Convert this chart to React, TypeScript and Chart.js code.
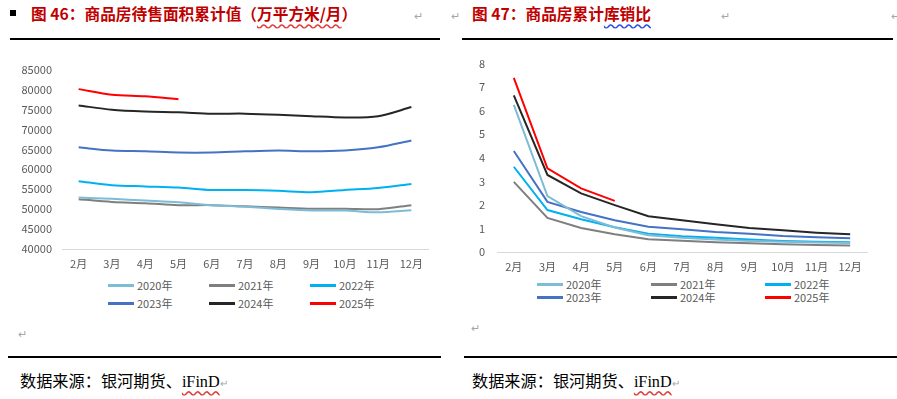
import React, { useEffect, useRef } from "react";
import { Chart, registerables } from "chart.js";

Chart.register(...registerables);

const months = ["2月", "3月", "4月", "5月", "6月", "7月", "8月", "9月", "10月", "11月", "12月"];
const years = ["2020年", "2021年", "2022年", "2023年", "2024年", "2025年"];
const colors = ["#7DBCD6", "#7F7F7F", "#00B0F0", "#4472C4", "#262626", "#FF0000"];

// 商品房待售面积累计值（万平方米）
const stock2020 = [52900, 52600, 52150, 51700, 51000, 50600, 50050, 49650, 49650, 49200, 49700];
const stock2021 = [52500, 51800, 51500, 51000, 51000, 50700, 50400, 50100, 50100, 50000, 51000];
const stock2022 = [57000, 56000, 55700, 55400, 54800, 54800, 54600, 54250, 54800, 55300, 56300];
const stock2023 = [65500, 64700, 64500, 64200, 64200, 64500, 64700, 64500, 64700, 65500, 67200];
const stock2024 = [76000, 74950, 74500, 74300, 73950, 73950, 73700, 73300, 73000, 73300, 75600];
const stock2025 = [80100, 78700, 78300, 77550];

// 商品房累计库销比
const ratio2020 = [6.25, 2.37, 1.52, 1.04, 0.71, 0.6, 0.53, 0.47, 0.43, 0.4, 0.38];
const ratio2021 = [2.98, 1.45, 1.02, 0.75, 0.54, 0.48, 0.41, 0.37, 0.33, 0.3, 0.28];
const ratio2022 = [3.62, 1.78, 1.39, 1.05, 0.78, 0.67, 0.6, 0.53, 0.47, 0.44, 0.41];
const ratio2023 = [4.29, 2.13, 1.7, 1.35, 1.07, 0.97, 0.85, 0.77, 0.68, 0.63, 0.58];
const ratio2024 = [6.65, 3.27, 2.49, 1.99, 1.52, 1.35, 1.18, 1.02, 0.92, 0.82, 0.75];
const ratio2025 = [7.39, 3.55, 2.7, 2.17];

const FONT = '"Noto Sans CJK SC", "Noto Sans", sans-serif';
const TICK = "#595959";

type ChartProps = {
  series: number[][];
  yMin: number;
  yMax: number;
  step: number;
  left: number;
  top: number;
  w: number;
  h: number;
  axisW: number;
  yPad: number;
  padRight: number;
  xAxisH: number;
  tension: number;
};

function LineChart(p: ChartProps) {
  const ref = useRef<HTMLCanvasElement>(null);
  useEffect(() => {
    const chart = new Chart(ref.current as HTMLCanvasElement, {
      type: "line",
      data: {
        labels: months,
        datasets: p.series.map((d, i) => ({
          label: years[i],
          data: d,
          borderColor: colors[i],
          backgroundColor: colors[i],
          borderWidth: 2,
          pointRadius: 0,
          tension: p.tension,
          fill: false,
        })),
      },
      options: {
        animation: false,
        responsive: false,
        maintainAspectRatio: false,
        layout: { padding: { top: 0, right: p.padRight, left: 0, bottom: 0 } },
        plugins: { legend: { display: false }, tooltip: { enabled: false } },
        scales: {
          x: {
            offset: true,
            grid: { display: false, drawTicks: false },
            border: { display: true, color: "#D9D9D9", width: 1 },
            ticks: { color: TICK, font: { size: 11, family: FONT }, padding: 8, maxRotation: 0, autoSkip: false },
            afterFit: (s: any) => {
              s.height = p.xAxisH;
            },
          },
          y: {
            min: p.yMin,
            max: p.yMax,
            grid: { display: false, drawTicks: false },
            border: { display: false },
            ticks: {
              stepSize: p.step,
              color: TICK,
              font: { size: 11, family: FONT },
              padding: p.yPad,
              callback: (v: any) => String(v),
            },
            afterFit: (s: any) => {
              s.width = p.axisW;
            },
          },
        },
      },
    });
    return () => chart.destroy();
  }, []);
  return (
    <canvas
      ref={ref}
      width={p.w}
      height={p.h}
      style={{ position: "absolute", left: p.left, top: p.top, width: p.w, height: p.h }}
    />
  );
}

function Legend({ xs, ys }: { xs: number[]; ys: number[] }) {
  const items: any[] = [];
  years.forEach((y, i) => {
    const x = xs[i % 3];
    const yy = ys[Math.floor(i / 3)];
    items.push(
      <div key={"l" + i} style={{ position: "absolute", left: x, top: yy - 1, width: 26, height: 3, background: colors[i] }} />
    );
    items.push(
      <div
        key={"t" + i}
        style={{
          position: "absolute",
          left: x + 29,
          top: yy - 9,
          fontSize: 11,
          lineHeight: "18px",
          color: TICK,
          fontFamily: FONT,
          whiteSpace: "nowrap",
        }}
      >
        {y}
      </div>
    );
  });
  return <>{items}</>;
}

const titleStyle: React.CSSProperties = {
  position: "absolute",
  top: 3,
  fontSize: 15.7,
  lineHeight: "22px",
  fontWeight: "bold",
  color: "#C00000",
  fontFamily: FONT,
  whiteSpace: "nowrap",
};

const mark: React.CSSProperties = {
  position: "absolute",
  fontSize: 11,
  color: "#A6A6A6",
  fontFamily: FONT,
  lineHeight: "14px",
};

const srcStyle: React.CSSProperties = {
  position: "absolute",
  top: 371,
  fontSize: 16.2,
  lineHeight: "22px",
  color: "#000",
  fontFamily: '"Liberation Serif", "Noto Sans CJK SC", serif',
  whiteSpace: "nowrap",
};

export default function App() {
  return (
    <div
      style={{
        position: "fixed",
        left: 0,
        top: 0,
        width: 897,
        height: 399,
        background: "#fff",
        overflow: "hidden",
      }}
    >
      {/* headers */}
      <div style={{ position: "absolute", left: 10, top: 10, width: 6, height: 6, background: "#000" }} />
      <div style={{ ...titleStyle, left: 31 }}>
        图 46：商品房待售面积累计值（
        <span style={{ textDecoration: "underline wavy #E04040", textUnderlineOffset: 3 }}>万平方米/月</span>）
      </div>
      <div style={{ ...mark, left: 414, top: 8 }}>↵</div>
      <div style={{ ...mark, left: 451, top: 8 }}>↵</div>
      <div style={{ ...titleStyle, left: 472 }}>
        图 47：商品房累计
        <span style={{ textDecoration: "underline wavy #3050E0", textUnderlineOffset: 3 }}>库销比</span>
      </div>
      <div style={{ ...mark, left: 721, top: 8 }}>↵</div>
      <div style={{ ...mark, left: 891, top: 8 }}>↵</div>
      <div style={{ position: "absolute", left: 10, top: 38, width: 430, height: 1.5, background: "#000" }} />
      <div style={{ position: "absolute", left: 462, top: 38, width: 431, height: 1.5, background: "#000" }} />

      {/* charts */}
      <LineChart
        series={[stock2020, stock2021, stock2022, stock2023, stock2024, stock2025]}
        yMin={40000}
        yMax={85000}
        step={5000}
        left={10}
        top={53}
        w={425}
        h={222}
        axisW={52}
        yPad={10}
        padRight={7}
        xAxisH={26}
        tension={0.3}
      />
      <LineChart
        series={[ratio2020, ratio2021, ratio2022, ratio2023, ratio2024, ratio2025]}
        yMin={0}
        yMax={8}
        step={1}
        left={462}
        top={45}
        w={420}
        h={230}
        axisW={35}
        yPad={12}
        padRight={15}
        xAxisH={23}
        tension={0}
      />
      <Legend xs={[108, 209, 310]} ys={[285, 303]} />
      <Legend xs={[537, 651, 765]} ys={[284, 297]} />

      {/* footers */}
      <div style={{ ...mark, left: 18, top: 326 }}>↵</div>
      <div style={{ ...mark, left: 471, top: 320 }}>↵</div>
      <div style={{ position: "absolute", left: 8, top: 356, width: 433, height: 1.5, background: "#000" }} />
      <div style={{ position: "absolute", left: 464, top: 356, width: 433, height: 1.5, background: "#000" }} />
      <div style={{ ...srcStyle, left: 20 }}>
        数据来源：银河期货、
        <span style={{ textDecoration: "underline wavy #E04040", textUnderlineOffset: 3 }}>iFinD</span>
        <span style={{ fontSize: 10, color: "#A6A6A6" }}>↵</span>
      </div>
      <div style={{ ...srcStyle, left: 472 }}>
        数据来源：银河期货、
        <span style={{ textDecoration: "underline wavy #E04040", textUnderlineOffset: 3 }}>iFinD</span>
        <span style={{ fontSize: 10, color: "#A6A6A6" }}>↵</span>
      </div>
    </div>
  );
}
